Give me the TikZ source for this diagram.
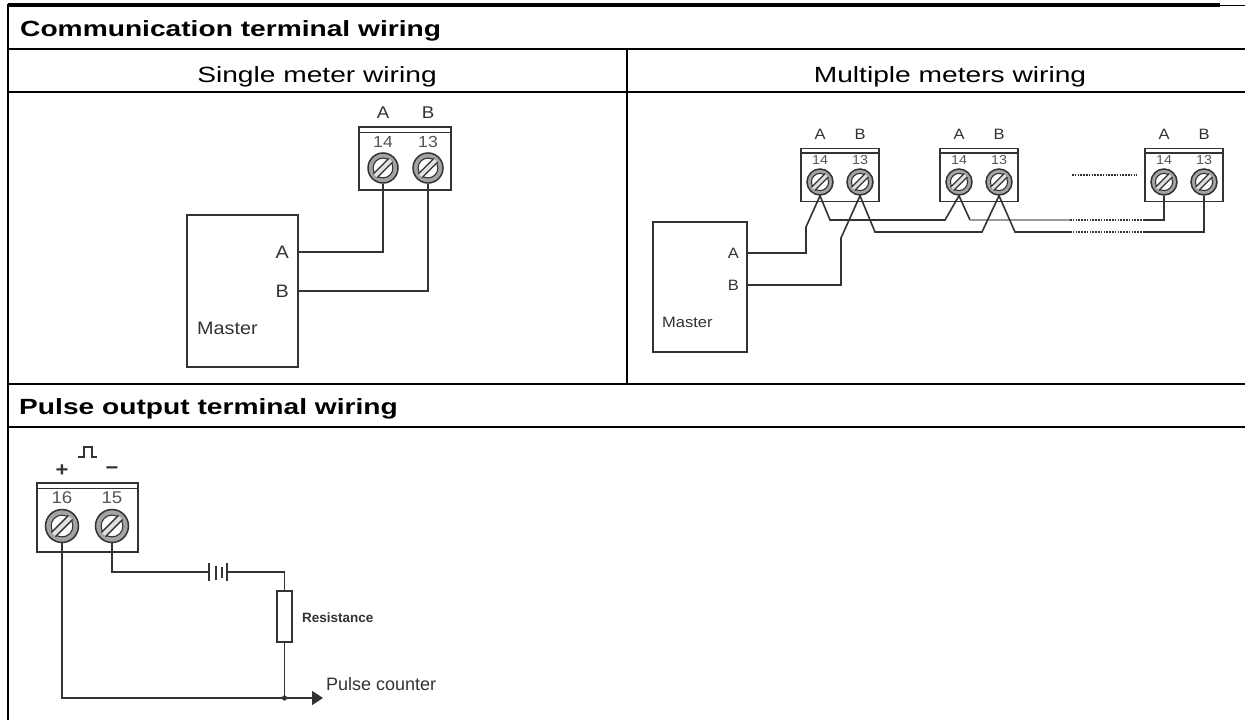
\documentclass[tikz,border=0pt]{standalone}
\usepackage{fontspec}
\setmainfont{Liberation Sans}
\newfontfamily\hdfont{Liberation Sans}[FakeStretch=1.28]
\newfontfamily\dgfont{Liberation Sans}[FakeStretch=1.1]
\usetikzlibrary{arrows.meta}
\definecolor{dk}{HTML}{333333}
\definecolor{numc}{HTML}{555555}
\begin{document}
\begin{tikzpicture}[x=1pt,y=-1pt,
  tline/.style={line width=2.6pt, draw=black},
  wire/.style={line width=1.6pt, draw=dk},
  graywire/.style={line width=1.5pt, draw=dk!50},
  dotwire/.style={line width=1.5pt, draw=dk, dash pattern=on 1.6pt off 1.2pt},
  title/.style={font=\hdfont\fontsize{22}{22}\selectfont\bfseries, anchor=base west, inner sep=0},
  subhead/.style={font=\hdfont\fontsize{22}{22}\selectfont, anchor=base, inner sep=0},
  box/.style={draw=dk, line width=1.6pt, rectangle, inner sep=0},
  tblock/.style={box, path picture={\draw[dk, line width=1.1pt]
      ([yshift=-#1]path picture bounding box.north west) --
      ([yshift=-#1]path picture bounding box.north east);}},
  screw/.style={circle, draw=dk, line width=1.5pt, fill=dk!45, minimum size=#1pt, inner sep=0,
    path picture={
      \draw[dk, fill=white, line width=1.1pt] (path picture bounding box.center) circle[radius=0.33*#1pt];
      \draw[dk, line width=0.22*#1pt]
        ([xshift=-0.26*#1pt, yshift=-0.26*#1pt]path picture bounding box.center) --
        ([xshift=0.26*#1pt, yshift=0.26*#1pt]path picture bounding box.center);
      \draw[dk!15, line width=0.12*#1pt]
        ([xshift=-0.26*#1pt, yshift=-0.26*#1pt]path picture bounding box.center) --
        ([xshift=0.26*#1pt, yshift=0.26*#1pt]path picture bounding box.center);
    }},
  lab/.style={text=dk, inner sep=0, font=\dgfont\fontsize{#1}{#1}\selectfont},
  numl/.style={text=numc, inner sep=0, font=\dgfont\fontsize{#1}{#1}\selectfont},
]
\useasboundingbox (0,0) rectangle (1245,720);
\fill[white] (0,0) rectangle (1245,720);

% ---------- table ----------
\draw[line width=3.2pt] (8,5) -- (1220,5);
\draw[line width=1.5pt] (1220,5.5) -- (1245,5.5);
\draw[line width=2.4pt] (8,3.5) -- (8,720);
\draw[tline] (8,49) -- (1245,49);
\draw[tline] (8,92) -- (1245,92);
\draw[tline] (8,384) -- (1245,384);
\draw[tline] (8,427) -- (1245,427);
\draw[tline] (627,49) -- (627,384);

\node[title] (t1) at (20,36.5) {Communication terminal wiring};
\node[subhead] (h1) at (317,82) {Single meter wiring};
\node[subhead] (h2) at (950,82) {Multiple meters wiring};
\node[title] (t2) at (19,414) {Pulse output terminal wiring};

% ---------- single meter ----------
\node[tblock=5.5pt, minimum width=92pt, minimum height=63pt] (sblk) at (405,158.5) {};
\node[screw=30] (s14) at (383,168) {};
\node[screw=30] (s13) at (428,168) {};
\node[numl=16] (sn14) at (383,142) {14};
\node[numl=16] (sn13) at (428,142) {13};
\node[lab=17] (sA) at (383,113) {A};
\node[lab=17] (sB) at (428,113) {B};
\node[box, minimum width=111pt, minimum height=152pt] (sm) at (242.5,291) {};
\node[lab=18, anchor=east] (smA) at (289,252) {A};
\node[lab=18, anchor=east] (smB) at (289,291) {B};
\node[lab=18, anchor=west] (smM) at (197,328) {Master};
\draw[wire] (s14.south) |- (sm.east |- smA);
\draw[wire] (s13.south) |- (sm.east |- smB);

% ---------- multiple meters ----------
\foreach \i/\cx in {1/840, 2/979, 3/1184}{
  \node[tblock=4.5pt, minimum width=78pt, minimum height=53pt] (mb\i) at (\cx,175) {};
  \node[screw=26] (ma\i) at (\cx-20,182) {};
  \node[screw=26] (mbb\i) at (\cx+20,182) {};
  \node[numl=13] (mna\i) at (\cx-20,160) {14};
  \node[numl=13] (mnb\i) at (\cx+20,160) {13};
  \node[lab=15] (mla\i) at (\cx-20,134) {A};
  \node[lab=15] (mlb\i) at (\cx+20,134) {B};
}
\node[box, minimum width=94pt, minimum height=130pt] (mm) at (700,287) {};
\node[lab=15, anchor=east] (mmA) at (739,253) {A};
\node[lab=15, anchor=east] (mmB) at (739,285) {B};
\node[lab=15, anchor=west] (mmM) at (662,322) {Master};

\coordinate (dA1) at (1070,220);
\coordinate (dA2) at (1143,220);
\coordinate (dB1) at (1070,232);
\coordinate (dB2) at (1143,232);
% A line
\draw[wire] (mm.east |- mmA) -- (806,253) -- (806,227) -- (ma1.south)
  -- (830,220) -- (945,220) -- (ma2.south) -- (970,220);
\draw[graywire] (970,220) -- (dA1);
\draw[dotwire] (dA1) -- (dA2);
\draw[wire] (dA2) -| (ma3.south);
% B line
\draw[wire] (mm.east |- mmB) -- (841,285) -- (841,238) -- (mbb1.south)
  -- (875,232) -- (982,232) -- (mbb2.south) -- (1015,232) -- (dB1);
\draw[dotwire] (dB1) -- (dB2);
\draw[wire] (dB2) -| (mbb3.south);
% dots between blocks
\coordinate (dd1) at (1072,175);
\coordinate (dd2) at (1137,175);
\draw[dotwire, line width=1.2pt] (dd1) -- (dd2);

% ---------- pulse output ----------
\node[tblock=5.5pt, minimum width=101pt, minimum height=69pt] (pblk) at (87.5,517.5) {};
\node[screw=33] (p16) at (62,526) {};
\node[screw=33] (p15) at (112,526) {};
\node[numl=17] (pn16) at (62,498) {16};
\node[numl=17] (pn15) at (112,498) {15};
\node[lab=20, font=\dgfont\fontsize{20}{20}\selectfont\bfseries] (pplus) at (62,471) {+};
\node[lab=20, font=\dgfont\fontsize{20}{20}\selectfont\bfseries] (pminus) at (112,471) {\textminus};
\coordinate (pu0) at (78,457);
\draw[wire, line width=1.3pt] (pu0) -- (84,457) -- (84,447) -- (92,447) -- (92,457) -- (97,457);

\coordinate (batL) at (209,572);
\coordinate (batR) at (227,572);
\draw[wire] (p15.south) |- (batL);
\draw[wire] (209,563) -- (209,581);
\draw[wire] (216,566) -- (216,580);
\draw[wire, line width=2pt] (222,567) -- (222,578);
\draw[wire] (227,563) -- (227,581);
\node[box, minimum width=15pt, minimum height=51pt] (res) at (284.5,616.5) {};
\draw[wire] (batR) -| (res.north);
\node[lab=13.5, anchor=west, font=\fontsize{13.5}{13.5}\selectfont\bfseries] (resl) at (302,618) {Resistance};
\coordinate (jn) at (284.5,698);
\coordinate (tip) at (323,698);
\draw[wire] (res.south) -- (jn);
\draw[wire, -{Triangle[length=11pt,width=14pt]}] (p16.south) |- (tip);
\fill[dk] (jn) circle[radius=2.6pt];
\node[lab=18, font=\fontsize{18}{18}\selectfont, anchor=west] (pc) at (326,684) {Pulse counter};
\end{tikzpicture}
\end{document}
